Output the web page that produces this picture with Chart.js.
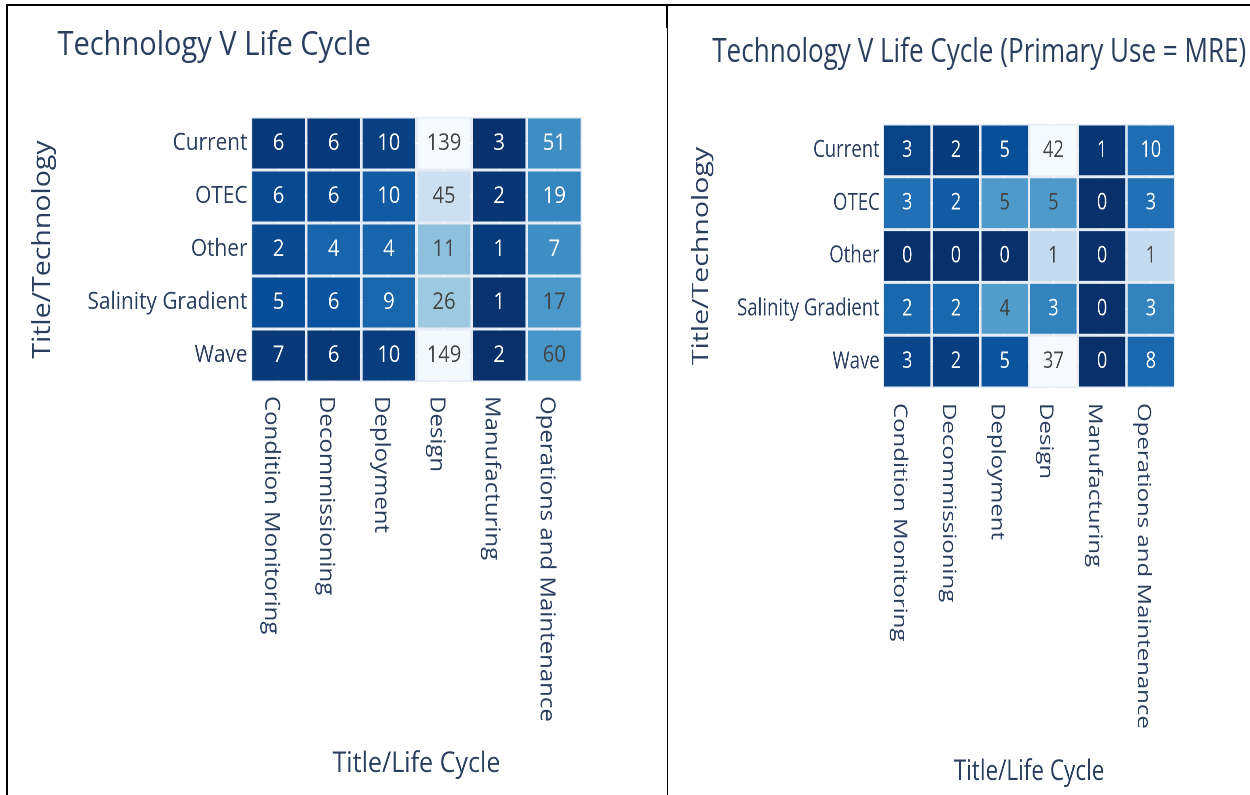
<!DOCTYPE html>
<html>
<head>
<meta charset="utf-8">
<script src="https://cdn.jsdelivr.net/npm/chart.js@4.4.1/dist/chart.umd.min.js"></script>
<style>
  html, body { margin: 0; padding: 0; background: #fff; }
  body { width: 1250px; height: 795px; position: relative; overflow: hidden; }
  .panel { position: absolute; top: 0; height: 795px; transform-origin: 0 0; }
  .panel canvas { position: absolute; left: 0; top: 0; }
  .title { position: absolute; font-family: "Open Sans", verdana, arial, sans-serif; font-size: 33px;
           line-height: 33px; color: #2a3f5f; white-space: nowrap; }
  .rule { position: absolute; background: #000; }
</style>
</head>
<body>
<div class="rule" style="left:6px;top:4px;width:1244px;height:2px"></div>
<div class="rule" style="left:6px;top:4px;width:2px;height:791px"></div>
<div class="rule" style="left:667px;top:4px;width:1px;height:791px"></div>
<div class="rule" style="left:666px;top:4px;width:2px;height:24px"></div>

<div class="panel" style="left:9px;width:748px;transform:scaleX(0.88)">
  <div class="title" style="left:55px;top:26px">Technology V Life Cycle</div>
  <canvas id="chartAll" width="748" height="795"></canvas>
</div>
<div class="panel" style="left:668px;width:737px;transform:scaleX(0.79)">
  <div class="title" style="left:56px;top:33px">Technology V Life Cycle (Primary Use = MRE)</div>
  <canvas id="chartMre" width="737" height="795"></canvas>
</div>

<script>
const lifeCycles = ['Condition Monitoring', 'Decommissioning', 'Deployment', 'Design', 'Manufacturing', 'Operations and Maintenance'];
const technologies = ['Current', 'OTEC', 'Other', 'Salinity Gradient', 'Wave'];

// all records, one array per technology (in lifeCycles order)
const allCurrent = [6, 6, 10, 139, 3, 51];
const allOtec = [6, 6, 10, 45, 2, 19];
const allOther = [2, 4, 4, 11, 1, 7];
const allSalinity = [5, 6, 9, 26, 1, 17];
const allWave = [7, 6, 10, 149, 2, 60];

// primary use = MRE
const mreCurrent = [3, 2, 5, 42, 1, 10];
const mreOtec = [3, 2, 5, 5, 0, 3];
const mreOther = [0, 0, 0, 1, 0, 1];
const mreSalinity = [2, 2, 4, 3, 0, 3];
const mreWave = [3, 2, 5, 37, 0, 8];

Chart.defaults.font.family = '"Open Sans", verdana, arial, sans-serif';
const inkColor = '#2a3f5f';

// Blues, reversed: low share = dark, high share = light
const BLUES_R = ['#08306b', '#08519c', '#2171b5', '#4292c6', '#6baed6', '#9ecae1', '#c6dbef', '#deebf7', '#f7fbff'];

function hexToRgb(h) {
  const n = parseInt(h.slice(1), 16);
  return [(n >> 16) & 255, (n >> 8) & 255, n & 255];
}

function bluesAt(t) {
  t = Math.max(0, Math.min(1, t));
  const p = t * (BLUES_R.length - 1);
  const i = Math.min(Math.floor(p), BLUES_R.length - 2);
  const f = p - i;
  const a = hexToRgb(BLUES_R[i]), b = hexToRgb(BLUES_R[i + 1]);
  return a.map((v, k) => Math.round(v + (b[k] - v) * f));
}

const plotBg = {
  id: 'plotBg',
  beforeDraw(chart) {
    const a = chart.chartArea;
    chart.ctx.save();
    chart.ctx.fillStyle = '#E5ECF6';
    chart.ctx.fillRect(a.left, a.top, a.right - a.left, a.bottom - a.top);
    chart.ctx.restore();
  }
};

const cellText = {
  id: 'cellText',
  afterDatasetsDraw(chart) {
    const ctx = chart.ctx;
    ctx.save();
    ctx.font = '23px "Open Sans", verdana, arial, sans-serif';
    ctx.textAlign = 'center';
    ctx.textBaseline = 'middle';
    chart.data.datasets.forEach((ds, i) => {
      chart.getDatasetMeta(i).data.forEach((bar, j) => {
        ctx.fillStyle = ds.textColors[j];
        ctx.fillText(String(ds.counts[j]), bar.x, (bar.y + bar.base) / 2);
      });
    });
    ctx.restore();
  }
};

// x tick labels read top to bottom, so draw them here
const xLabels = {
  id: 'xLabels',
  afterDraw(chart, args, opts) {
    const ctx = chart.ctx;
    const xs = chart.scales.x;
    ctx.save();
    ctx.font = '24px "Open Sans", verdana, arial, sans-serif';
    ctx.fillStyle = inkColor;
    ctx.textAlign = 'left';
    ctx.textBaseline = 'alphabetic';
    lifeCycles.forEach((lab, j) => {
      ctx.save();
      ctx.translate(xs.getPixelForValue(j), chart.chartArea.bottom + opts.gap);
      ctx.rotate(Math.PI / 2);
      ctx.fillText(lab, 0, opts.shift);
      ctx.restore();
    });
    ctx.restore();
  }
};

function drawHeatmap(id, rows, L) {
  // colour follows each cell's share of its row total
  const shares = rows.map(r => {
    const total = r.reduce((a, b) => a + b, 0);
    return r.map(v => v / total);
  });
  const flat = shares.flat();
  const zmin = Math.min(...flat), zmax = Math.max(...flat);

  const datasets = rows.map((r, i) => {
    const rgb = shares[i].map(z => bluesAt((z - zmin) / (zmax - zmin)));
    return {
      label: technologies[i],
      data: r.map(() => [i, i + 1]),
      counts: r,
      backgroundColor: rgb.map(c => `rgb(${c[0]},${c[1]},${c[2]})`),
      textColors: rgb.map(c => ((c[0] * 299 + c[1] * 587 + c[2] * 114) / 1000 >= 128 ? '#444' : '#fff')),
      borderWidth: 1.5,
      borderColor: 'rgba(0,0,0,0)',
      borderSkipped: false,
      inflateAmount: 0,
      barPercentage: 1,
      categoryPercentage: 1,
      grouped: false
    };
  });

  return new Chart(document.getElementById(id), {
    type: 'bar',
    data: { labels: lifeCycles, datasets },
    options: {
      responsive: false,
      devicePixelRatio: 2,
      animation: false,
      layout: { padding: { top: L.padTop, right: L.padRight, bottom: 0, left: 0 } },
      plugins: {
        legend: { display: false },
        tooltip: { enabled: false },
        xLabels: { gap: L.labelGap, shift: L.labelShift }
      },
      scales: {
        x: {
          offset: true,
          grid: { offset: false, color: '#fff', lineWidth: 1, drawTicks: false },
          border: { display: false },
          ticks: { display: false },
          title: {
            display: true, text: 'Title/Life Cycle', color: inkColor,
            font: { size: 28.5 }, padding: { top: 0, bottom: L.xTitlePad }
          },
          afterFit: s => { s.height = 795 - L.areaBottom; }
        },
        y: {
          type: 'linear',
          min: 0,
          max: technologies.length,
          reverse: true,
          afterBuildTicks: s => { s.ticks = technologies.map((_, i) => ({ value: i + 0.5 })); },
          ticks: {
            callback: (v, i) => technologies[i],
            color: inkColor, font: { size: L.tickSize }, padding: 4, autoSkip: false
          },
          grid: { color: '#fff', lineWidth: 1, drawTicks: false },
          border: { display: false },
          title: {
            display: true, text: 'Title/Technology', color: inkColor,
            font: { size: 28.5 }, padding: { top: L.yTitlePad, bottom: 0 }
          },
          afterFit: s => { s.width = L.areaLeft; }
        }
      }
    },
    plugins: [plotBg, cellText, xLabels]
  });
}

drawHeatmap('chartAll', [allCurrent, allOtec, allOther, allSalinity, allWave],
  { padTop: 117, padRight: 97, areaLeft: 275, areaBottom: 382, xTitlePad: 14, yTitlePad: 21.3,
    labelGap: 14, labelShift: 15.5, tickSize: 23.7 });

drawHeatmap('chartMre', [mreCurrent, mreOtec, mreOther, mreSalinity, mreWave],
  { padTop: 124, padRight: 95, areaLeft: 272, areaBottom: 388, xTitlePad: 6, yTitlePad: 25.4,
    labelGap: 15, labelShift: 16.6, tickSize: 23.5 });
</script>
</body>
</html>
